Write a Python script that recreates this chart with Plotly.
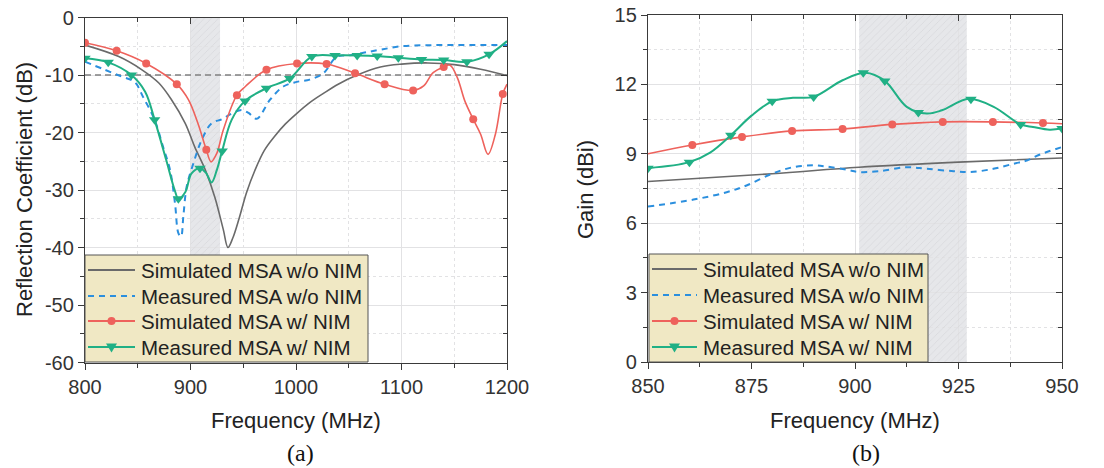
import plotly.graph_objects as go

# ---------------- (a) Reflection coefficient ----------------
freq_a_sim_wo = [800, 832, 854, 870, 882, 895, 904, 914, 923, 931, 935.5, 940, 946, 953, 961, 970, 980, 990,
                 1000, 1013, 1026, 1040, 1058, 1080, 1100, 1125, 1150, 1175, 1200]
s11_sim_wo = [-4.8, -6.8, -9.1, -11.4, -14.3, -18.4, -22.5, -26.5, -31.2, -36.8, -40.0, -38.4, -35.0, -30.5,
              -26.6, -23.1, -20.6, -18.5, -16.8, -14.8, -13.2, -11.6, -10.0, -8.6, -8.1, -7.9, -8.2, -9.0, -10.1]

freq_a_meas_wo = [800, 819, 835, 847, 855, 866, 874, 880.6, 885.3, 888.5, 891, 893.2, 896.4, 902.7, 910.6, 920,
                  929.6, 939, 948.5, 955, 962.8, 975.4, 988, 1000.7, 1013, 1026, 1038.6, 1050, 1065, 1080, 1100,
                  1130, 1200]
s11_meas_wo = [-7.7, -9.1, -10.3, -11.2, -13.8, -17.8, -22.5, -26.5, -32.3, -37.5, -38.1, -34.6, -29.4, -25.4,
               -21.3, -18.4, -17.7, -16.7, -16.1, -16.6, -17.6, -14.3, -12.0, -11.2, -10.8, -9.7, -6.8, -6.6,
               -6.1, -5.6, -5.0, -4.8, -4.8]

freq_a_sim_w = [800, 830, 858, 887, 898, 907, 915, 919.5, 925, 931, 944, 952, 972, 1001, 1029, 1056, 1084, 1111,
                1121, 1130, 1140, 1146, 1153, 1160, 1168, 1175, 1182, 1189, 1196, 1200]
s11_sim_w = [-4.4, -5.8, -8.0, -11.6, -14.3, -18.4, -23.0, -25.1, -23.6, -19.6, -13.5, -12.0, -9.1, -8.0, -8.1,
             -9.7, -11.6, -12.7, -11.9, -9.6, -8.6, -8.3, -10.5, -14.5, -17.7, -20.3, -23.8, -20.3, -13.3, -11.6]
mk_freq_a_sim_w = [800, 830, 858, 887, 915, 944, 972, 1001, 1029, 1056, 1084, 1111, 1140, 1168, 1196]
mk_s11_sim_w = [-4.4, -5.8, -8.0, -11.6, -23.0, -13.5, -9.1, -8.0, -8.1, -9.7, -11.6, -12.7, -8.6, -17.7, -13.3]

freq_a_meas_w = [800, 822, 844, 857, 866, 877, 885, 888.5, 895, 901, 909, 915, 920, 925, 930, 939, 951.7, 972,
                 994, 1015, 1037, 1058, 1077, 1097, 1119, 1140, 1162, 1183, 1200]
s11_meas_w = [-7.1, -7.8, -10.0, -12.9, -17.8, -24.8, -30.0, -31.5, -30.4, -27.1, -26.2, -27.1, -28.7, -26.5,
              -23.2, -17.8, -14.5, -12.3, -10.6, -6.8, -6.6, -6.6, -6.7, -7.0, -7.3, -7.4, -7.7, -6.4, -4.1]
mk_freq_a_meas_w = [800, 822, 844, 866, 888.5, 909, 930, 951.7, 972, 994, 1015, 1037, 1058, 1077, 1097, 1119,
                    1140, 1162, 1183]
mk_s11_meas_w = [-7.1, -7.8, -10.0, -17.8, -31.5, -26.2, -23.2, -14.5, -12.3, -10.6, -6.8, -6.6, -6.6, -6.7,
                 -7.0, -7.3, -7.4, -7.7, -6.4]

band_a = [900, 928]
range_a = [800, 1200]
yrange_a = [-60, 0]
threshold_db = -10
yticks_a = [0, -10, -20, -30, -40, -50, -60]
ylabels_a = ["0", "-10", "-20", "-30", "-40", "-50", "-60"]

# ---------------- (b) Gain ----------------
freq_b_sim_wo = [850, 880, 901, 925, 950]
gain_sim_wo = [7.80, 8.14, 8.42, 8.64, 8.82]

freq_b_meas_wo = [850, 861, 869, 873.8, 880, 885, 889.9, 893, 898, 901, 906, 912.5, 917.3, 923.8, 927.8, 933.4,
                  938.3, 941.5, 944.7, 950]
gain_meas_wo = [6.72, 7.02, 7.34, 7.63, 8.14, 8.42, 8.50, 8.45, 8.31, 8.21, 8.25, 8.42, 8.35, 8.25, 8.21, 8.35,
                8.57, 8.71, 8.97, 9.29]

freq_b_sim_w = [850, 860.7, 872.7, 884.8, 897, 909, 921.2, 933.3, 945.4, 950]
gain_sim_w = [9.0, 9.38, 9.73, 9.99, 10.07, 10.27, 10.38, 10.38, 10.33, 10.3]
mk_freq_b_sim_w = [860.7, 872.7, 884.8, 897, 909, 921.2, 933.3, 945.4]
mk_gain_sim_w = [9.38, 9.73, 9.99, 10.07, 10.27, 10.38, 10.38, 10.33]

freq_b_meas_w = [850, 860, 865, 870, 875, 880, 885, 890, 897, 902.5, 907.2, 912.5, 917.3, 921, 927.5, 933.5,
                 940, 943, 947, 950]
gain_meas_w = [8.38, 8.64, 9.05, 9.8, 10.65, 11.27, 11.42, 11.46, 12.18, 12.5, 12.15, 11.03, 10.74, 10.88, 11.38,
               11.03, 10.27, 10.16, 10.04, 10.09]
mk_freq_b_meas_w = [850, 860, 870, 880, 890, 902, 907.2, 915.3, 928, 940, 950]
mk_gain_meas_w = [8.38, 8.64, 9.8, 11.27, 11.46, 12.5, 12.15, 10.78, 11.36, 10.27, 10.09]

band_b = [901, 927]
range_b = [850, 950]
yrange_b = [0, 15]

names = ["Simulated MSA w/o NIM", "Measured MSA w/o NIM", "Simulated MSA w/ NIM", "Measured MSA w/ NIM"]

C_GRAY = "#6a6a6a"
C_BLUE = "#2b8fde"
C_RED = "#ee625c"
C_GREEN = "#20b085"
FONT = "Arial, Liberation Sans, sans-serif"
W, H = 1104, 468

fig = go.Figure()

# hatched overlay of the operating bands (under the curves)
for band, yr, xa, ya in [(band_a, yrange_a, "x", "y"), (band_b, yrange_b, "x2", "y2")]:
    fig.add_trace(go.Scatter(x=[band[0], band[1], band[1], band[0], band[0]],
                             y=[yr[0], yr[0], yr[1], yr[1], yr[0]], mode="lines", fill="toself",
                             fillcolor="rgba(0,0,0,0)", line=dict(width=0),
                             fillpattern=dict(shape="/", fgcolor="#c8c9ce", bgcolor="rgba(0,0,0,0)",
                                              size=5, solidity=0.15),
                             xaxis=xa, yaxis=ya, showlegend=False, hoverinfo="skip"))

# -10 dB reference line (under the curves)
fig.add_trace(go.Scatter(x=range_a, y=[threshold_db, threshold_db], mode="lines",
                         line=dict(color="#808080", width=1.3, dash="6px,4px"),
                         xaxis="x", yaxis="y", showlegend=False, hoverinfo="skip"))


def add_panel(xa, ya, data):
    (fsw, vsw), (fmw, vmw), (fs, vs, mfs, mvs), (fm, vm, mfm, mvm) = data
    fig.add_trace(go.Scatter(x=fsw, y=vsw, mode="lines", line=dict(color=C_GRAY, width=1.6, shape="spline"),
                             xaxis=xa, yaxis=ya, showlegend=False, hoverinfo="skip"))
    fig.add_trace(go.Scatter(x=fmw, y=vmw, mode="lines",
                             line=dict(color=C_BLUE, width=2, dash="6px,5px", shape="spline"),
                             xaxis=xa, yaxis=ya, showlegend=False, hoverinfo="skip"))
    fig.add_trace(go.Scatter(x=fs, y=vs, mode="lines", line=dict(color=C_RED, width=1.6, shape="spline"),
                             xaxis=xa, yaxis=ya, showlegend=False, hoverinfo="skip"))
    fig.add_trace(go.Scatter(x=mfs, y=mvs, mode="markers", marker=dict(color=C_RED, size=8, symbol="circle"),
                             xaxis=xa, yaxis=ya, showlegend=False, hoverinfo="skip"))
    fig.add_trace(go.Scatter(x=fm, y=vm, mode="lines", line=dict(color=C_GREEN, width=2, shape="spline"),
                             xaxis=xa, yaxis=ya, showlegend=False, hoverinfo="skip"))
    fig.add_trace(go.Scatter(x=mfm, y=mvm, mode="markers",
                             marker=dict(color=C_GREEN, size=10, symbol="triangle-down"),
                             xaxis=xa, yaxis=ya, showlegend=False, hoverinfo="skip"))


add_panel("x", "y", [
    (freq_a_sim_wo, s11_sim_wo), (freq_a_meas_wo, s11_meas_wo),
    (freq_a_sim_w, s11_sim_w, mk_freq_a_sim_w, mk_s11_sim_w),
    (freq_a_meas_w, s11_meas_w, mk_freq_a_meas_w, mk_s11_meas_w)])
add_panel("x2", "y2", [
    (freq_b_sim_wo, gain_sim_wo), (freq_b_meas_wo, gain_meas_wo),
    (freq_b_sim_w, gain_sim_w, mk_freq_b_sim_w, mk_gain_sim_w),
    (freq_b_meas_w, gain_meas_w, mk_freq_b_meas_w, mk_gain_meas_w)])

# empty traces that attach the top / right mirror axes (inside ticks)
for xa, ya in [("x3", "y"), ("x", "y3"), ("x4", "y2"), ("x2", "y4")]:
    fig.add_trace(go.Scatter(x=[None], y=[None], xaxis=xa, yaxis=ya, showlegend=False, hoverinfo="skip"))

xa_dom = [85 / W, 507 / W]
ya_dom = [1 - 362.5 / H, 1 - 17.5 / H]
xb_dom = [648 / W, 1062 / W]
yb_dom = [1 - 362 / H, 1 - 15 / H]

GRID = "#e2e2e4"
LINE = "#3a3a3a"
TICKF = dict(family=FONT, size=20, color="#333333")


def main_axis(rng, dtick, mdtick, dom, anchor):
    return dict(range=rng, dtick=dtick, domain=dom, anchor=anchor, showline=True, mirror=True,
                linecolor=LINE, linewidth=1.4,
                ticks="outside", ticklen=6, tickwidth=1.4, tickcolor=LINE, tickfont=TICKF, automargin=False,
                showgrid=True, gridcolor=GRID, gridwidth=1.2, zeroline=False,
                minor=dict(dtick=mdtick, ticks="outside", ticklen=4, tickcolor=LINE, tickwidth=1.2,
                           showgrid=True, gridcolor=GRID, griddash="dot", gridwidth=1.2))


def mirror_axis(rng, dtick, mdtick, over, side, anchor):
    return dict(range=rng, dtick=dtick, overlaying=over, side=side, anchor=anchor, showline=True,
                linecolor=LINE, linewidth=1.4, ticks="inside", ticklen=6, tickwidth=1.4, tickcolor=LINE,
                showticklabels=False, showgrid=False, zeroline=False, automargin=False,
                minor=dict(dtick=mdtick, ticks="inside", ticklen=4, tickcolor=LINE, tickwidth=1.2, showgrid=False))


ya_main = main_axis(yrange_a, 10, 5, ya_dom, "x")
ya_main.update(tickmode="array", tickvals=yticks_a, ticktext=ylabels_a)

fig.update_layout(
    width=W, height=H, margin=dict(l=0, r=0, t=0, b=0, autoexpand=False),
    paper_bgcolor="white", plot_bgcolor="white",
    font=dict(family=FONT, color="#222222"),
    xaxis=main_axis(range_a, 100, 50, xa_dom, "y"),
    yaxis=ya_main,
    xaxis2=main_axis(range_b, 25, 12.5, xb_dom, "y2"),
    yaxis2=main_axis(yrange_b, 3, 1.5, yb_dom, "x2"),
    xaxis3=mirror_axis(range_a, 100, 50, "x", "top", "y"),
    yaxis3=mirror_axis(yrange_a, 10, 5, "y", "right", "x"),
    xaxis4=mirror_axis(range_b, 25, 12.5, "x2", "top", "y2"),
    yaxis4=mirror_axis(yrange_b, 3, 1.5, "y2", "right", "x2"),
    showlegend=False,
)

# shaded band background
fig.add_shape(type="rect", xref="x", yref="y domain", x0=band_a[0], x1=band_a[1], y0=0, y1=1,
              fillcolor="#e6e7ea", line=dict(width=0), layer="below")
fig.add_shape(type="rect", xref="x2", yref="y2 domain", x0=band_b[0], x1=band_b[1], y0=0, y1=1,
              fillcolor="#e6e7ea", line=dict(width=0), layer="below")


# ---------------- legend boxes (drawn as shapes + text) ----------------
def px(x):
    return x / W


def py(y):
    return 1 - y / H


LEGF = dict(family=FONT, size=20.5, color="#222222")


def legend_box(x0, x1, y0, y1, rows, sym_x0, sym_x1, text_x):
    fig.add_shape(type="rect", xref="paper", yref="paper", x0=px(x0), x1=px(x1), y0=py(y1), y1=py(y0),
                  fillcolor="#f0e8c4", line=dict(color="#555555", width=1), layer="above")
    cx = (sym_x0 + sym_x1) / 2
    styles = [(C_GRAY, None, None), (C_BLUE, "6px,5px", None), (C_RED, None, "circle"), (C_GREEN, None, "tri")]
    for (col, dash, mk), ry, name in zip(styles, rows, names):
        fig.add_shape(type="line", xref="paper", yref="paper", x0=px(sym_x0), x1=px(sym_x1), y0=py(ry), y1=py(ry),
                      line=dict(color=col, width=2.2, dash=dash or "solid"), layer="above")
        if mk == "circle":
            fig.add_shape(type="circle", xref="paper", yref="paper", xsizemode="pixel", ysizemode="pixel",
                          xanchor=px(cx), yanchor=py(ry), x0=-4, x1=4, y0=-4, y1=4,
                          fillcolor=col, line=dict(width=0), layer="above")
        elif mk == "tri":
            fig.add_shape(type="path", xref="paper", yref="paper", xsizemode="pixel", ysizemode="pixel",
                          xanchor=px(cx), yanchor=py(ry), path="M -5.5,3.5 L 5.5,3.5 L 0,-5.5 Z",
                          fillcolor=col, line=dict(width=0), layer="above")
        fig.add_annotation(xref="paper", yref="paper", x=px(text_x), y=py(ry), text=name,
                           showarrow=False, xanchor="left", yanchor="middle", font=LEGF)


legend_box(85, 368, 255, 362, [270, 296, 321, 347], 88, 135, 139)
legend_box(649, 928, 254, 362, [269, 295, 321, 347], 652, 697, 701)

# axis titles and captions
TITLEF = dict(family=FONT, size=22, color="#222222")
CAPF = dict(family="Liberation Serif, Times New Roman, serif", size=24, color="#111111")
ann = [
    dict(text="Reflection Coefficient (dB)", x=px(24), y=py(190), textangle=-90, font=TITLEF),
    dict(text="Frequency (MHz)", x=px(296), y=py(420), font=TITLEF),
    dict(text="Gain (dBi)", x=px(585), y=py(190), textangle=-90, font=TITLEF),
    dict(text="Frequency (MHz)", x=px(855), y=py(420), font=TITLEF),
    dict(text="(a)", x=px(300), y=py(453), font=CAPF),
    dict(text="(b)", x=px(866), y=py(453), font=CAPF),
]
for a in ann:
    fig.add_annotation(xref="paper", yref="paper", showarrow=False, xanchor="center", yanchor="middle", **a)

# remove the page's default body margin so the figure sits at the window origin
fig.write_html("out.html", config={"displayModeBar": False},
               post_script="document.body.style.margin='0px';")
